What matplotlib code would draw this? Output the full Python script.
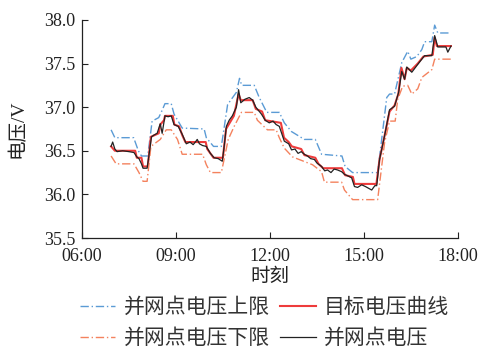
import matplotlib.pyplot as plt
from matplotlib.ticker import FixedLocator

plt.rcParams['font.family'] = ['Liberation Serif', 'Noto Sans CJK SC']
plt.rcParams['axes.unicode_minus'] = False

# 时间（小时）与电压读数
t_meas = [6.93, 6.98, 7.05, 7.12, 7.3, 7.5, 7.66, 7.75, 7.82, 7.9, 7.95, 8.08, 8.14, 8.22, 8.3,
          8.4, 8.5, 8.56, 8.65, 8.75, 8.85, 8.94, 9.07, 9.2, 9.33, 9.45, 9.55, 9.62, 9.68, 9.75,
          9.85, 9.97, 10.1, 10.22, 10.35, 10.48, 10.54, 10.61, 10.7, 10.8, 10.93, 11.0, 11.07,
          11.2, 11.34, 11.45, 11.55, 11.73, 11.85, 11.98, 12.1, 12.2, 12.3, 12.46, 12.6, 12.69,
          12.8, 12.9, 13.0, 13.1, 13.2, 13.3, 13.42, 13.5, 13.65, 13.75, 13.84, 13.95, 14.05,
          14.16, 14.29, 14.38, 14.5, 14.61, 14.7, 14.8, 14.93, 15.05, 15.15, 15.25, 15.35,
          15.41, 15.5, 15.66, 15.82, 15.98, 16.11, 16.21, 16.3, 16.37, 16.53, 16.72, 16.85,
          16.94, 17.17, 17.26, 17.36, 17.5, 17.62, 17.68, 17.78]
v_meas = [36.55, 36.60, 36.52, 36.49, 36.50, 36.49, 36.48, 36.43, 36.41, 36.35, 36.30, 36.30,
          36.45, 36.66, 36.68, 36.70, 36.81, 36.70, 36.90, 36.89, 36.90, 36.80, 36.78, 36.69,
          36.58, 36.60, 36.57, 36.60, 36.63, 36.58, 36.56, 36.55, 36.47, 36.42, 36.41, 36.38,
          36.55, 36.78, 36.85, 36.90, 37.00, 37.20, 37.05, 37.09, 37.11, 37.08, 37.00, 36.92,
          36.85, 36.82, 36.84, 36.80, 36.78, 36.61, 36.58, 36.51, 36.52, 36.47, 36.49, 36.46,
          36.44, 36.41, 36.40, 36.36, 36.32, 36.27, 36.28, 36.25, 36.29, 36.28, 36.26, 36.23,
          36.21, 36.19, 36.09, 36.08, 36.11, 36.09, 36.07, 36.05, 36.10, 36.10, 36.40, 36.67,
          36.97, 37.01, 37.17, 37.41, 37.32, 37.46, 37.40, 37.49, 37.55, 37.59, 37.59, 37.82,
          37.69, 37.69, 37.69, 37.63, 37.70]

t_target = [6.93, 7.05, 7.7, 7.75, 7.9, 7.95, 8.1, 8.2, 8.45, 8.5, 8.62, 8.65, 8.9, 8.95, 9.1,
            9.2, 9.3, 9.95, 10.0, 10.2, 10.5, 10.6, 10.85, 11.0, 11.07, 11.45, 11.55, 11.75,
            11.85, 12.35, 12.45, 12.6, 12.7, 13.0, 13.1, 13.45, 13.55, 13.7, 14.3, 14.4, 14.65,
            14.7, 15.4, 15.5, 15.66, 15.82, 15.98, 16.1, 16.2, 16.3, 16.37, 16.5, 16.72, 16.9,
            17.2, 17.26, 17.33, 17.78]
v_target = [36.55, 36.50, 36.50, 36.42, 36.42, 36.32, 36.32, 36.66, 36.70, 36.80, 36.85, 36.90,
            36.90, 36.80, 36.78, 36.68, 36.60, 36.60, 36.52, 36.42, 36.42, 36.75, 36.90, 37.15,
            37.08, 37.08, 36.98, 36.95, 36.85, 36.82, 36.65, 36.60, 36.55, 36.52, 36.45, 36.42,
            36.35, 36.30, 36.30, 36.22, 36.20, 36.12, 36.12, 36.40, 36.67, 36.95, 37.02, 37.15,
            37.45, 37.32, 37.45, 37.42, 37.50, 37.58, 37.60, 37.80, 37.70, 37.70]

t_upper = [6.93, 7.05, 7.65, 7.8, 7.9, 8.1, 8.24, 8.45, 8.53, 8.65, 8.85, 8.94, 9.2, 9.9, 9.97,
           10.2, 10.45, 10.65, 10.93, 11.03, 11.1, 11.5, 11.66, 11.9, 12.3, 12.46, 12.69, 13.1,
           13.45, 13.65, 14.3, 14.4, 14.64, 15.44, 15.73, 15.82, 15.98, 16.21, 16.4, 16.5,
           16.69, 16.85, 16.94, 17.17, 17.26, 17.36, 17.78]
v_upper = [36.74, 36.65, 36.65, 36.50, 36.44, 36.44, 36.84, 36.88, 36.94, 37.04, 37.04, 36.92,
           36.76, 36.75, 36.65, 36.55, 36.55, 37.03, 37.17, 37.33, 37.25, 37.25, 37.11, 36.94,
           36.94, 36.82, 36.72, 36.63, 36.63, 36.46, 36.44, 36.32, 36.25, 36.25, 37.11, 37.15,
           37.15, 37.51, 37.64, 37.55, 37.58, 37.66, 37.75, 37.75, 37.94, 37.85, 37.85]

t_lower = [6.93, 7.09, 7.66, 7.82, 7.95, 8.08, 8.2, 8.5, 8.69, 8.85, 9.05, 9.2, 9.85, 9.97, 10.1,
           10.45, 10.67, 10.86, 11.09, 11.5, 11.6, 11.92, 12.2, 12.3, 12.46, 12.72, 13.36, 13.65,
           13.74, 14.29, 14.38, 14.64, 15.44, 15.66, 15.82, 16.0, 16.08, 16.24, 16.4, 16.53,
           16.72, 16.85, 17.17, 17.26, 17.78]
v_lower = [36.44, 36.35, 36.35, 36.25, 36.15, 36.15, 36.55, 36.63, 36.74, 36.74, 36.63, 36.46,
           36.46, 36.34, 36.25, 36.25, 36.63, 36.78, 36.94, 36.94, 36.85, 36.74, 36.74, 36.65,
           36.53, 36.43, 36.34, 36.26, 36.14, 36.14, 36.05, 35.94, 35.94, 36.59, 36.84, 36.84,
           37.09, 37.24, 37.25, 37.15, 37.21, 37.34, 37.43, 37.55, 37.55]

x_ticks = [6, 9, 12, 15, 18]
x_labels = ['06:00', '09:00', '12:00', '15:00', '18:00']
y_ticks = [35.5, 36.0, 36.5, 37.0, 37.5, 38.0]

fig = plt.figure(figsize=(4.85, 3.49), dpi=100)
ax = fig.add_axes([0.169, 0.318, 0.775, 0.625])

l_up, = ax.plot(t_upper, v_upper, color='#5b9bd5', lw=1.0, dashes=[6, 2, 1, 2])
l_tg, = ax.plot(t_target, v_target, color='#ee3b3b', lw=1.5)
l_lo, = ax.plot(t_lower, v_lower, color='#f4825e', lw=1.0, dashes=[6, 2, 1, 2])
l_ms, = ax.plot(t_meas, v_meas, color='#222222', lw=0.9)

ax.set_xlim(6, 18)
ax.set_ylim(35.5, 38.0)
ax.xaxis.set_major_locator(FixedLocator(x_ticks))
ax.set_xticklabels(x_labels)
ax.set_yticks(y_ticks)
ax.set_yticklabels([f'{v:.1f}' for v in y_ticks])
ax.tick_params(direction='in', length=4, width=0.8, labelsize=13, colors='#222222')
ax.tick_params(axis='x', pad=7)
ax.tick_params(axis='y', pad=5)
for s in ['top', 'right']:
    ax.spines[s].set_visible(False)
for s in ['left', 'bottom']:
    ax.spines[s].set_linewidth(0.9)
    ax.spines[s].set_color('#222222')

ax.set_xlabel('时刻', fontsize=14, labelpad=3, color='#222222')
ax.set_ylabel('电压/V', fontsize=14, labelpad=12, color='#222222')

fig.legend([l_up, l_lo, l_tg, l_ms],
           ['并网点电压上限', '并网点电压下限', '目标电压曲线', '并网点电压'],
           loc='upper left', bbox_to_anchor=(0.165, 0.145), ncol=2, frameon=False,
           fontsize=15, handlelength=1.7, handletextpad=0.4, columnspacing=0.5,
           labelspacing=0.55, borderpad=0, borderaxespad=0, labelcolor='#333333')

fig.savefig('out.png', dpi=100)
